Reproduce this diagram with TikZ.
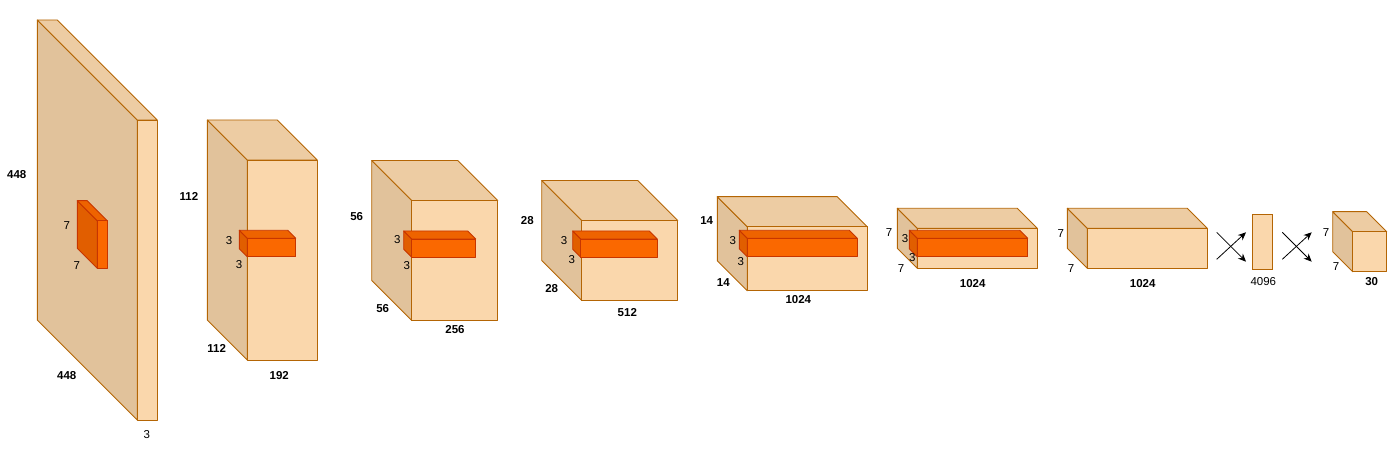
\documentclass[tikz,border=0pt]{standalone}
\usepackage{fontspec}
\setmainfont{Liberation Sans}
\usetikzlibrary{arrows.meta}
\definecolor{frontc}{HTML}{FAD7AC}
\definecolor{topc}{HTML}{EDCCA3}
\definecolor{sidec}{HTML}{E1C29B}
\definecolor{edgec}{HTML}{B46504}
\definecolor{kfront}{HTML}{FA6800}
\definecolor{ktop}{HTML}{EE6300}
\definecolor{kside}{HTML}{E15E00}
\definecolor{kedge}{HTML}{C73500}
% #1 x, #2 y (front top-left), #3 w, #4 h, #5 depth, #6 front, #7 top, #8 side, #9 edge
\newcommand{\mycuboid}[9]{%
  \filldraw[fill=#8,draw=#9,line width=0.9pt,line join=round]
    (#1-#5,#2-#5) -- (#1,#2) -- (#1,#2+#4) -- (#1-#5,#2+#4-#5) -- cycle;
  \filldraw[fill=#7,draw=#9,line width=0.9pt,line join=round]
    (#1-#5,#2-#5) -- (#1-#5+#3,#2-#5) -- (#1+#3,#2) -- (#1,#2) -- cycle;
  \filldraw[fill=#6,draw=#9,line width=0.9pt,line join=round]
    (#1,#2) rectangle (#1+#3,#2+#4);
}
\newcommand{\myblock}[5]{\mycuboid{#1}{#2}{#3}{#4}{#5}{frontc}{topc}{sidec}{edgec}}
\newcommand{\mykernel}[5]{\mycuboid{#1}{#2}{#3}{#4}{#5}{kfront}{ktop}{kside}{kedge}}
\tikzset{
  lab/.style={font=\fontsize{11.5}{13}\selectfont\bfseries,inner sep=0pt,text=black},
  labr/.style={font=\fontsize{11.5}{13}\selectfont,inner sep=0pt,text=black},
  fcarrow/.style={-{Stealth[length=8pt,width=7pt]},line width=0.8pt,black}
}
\begin{document}
\begin{tikzpicture}[x=1pt,y=-1pt]
\useasboundingbox (0,0) rectangle (1395,457);
% blocks
\myblock{137.3}{120}{20}{300}{100}
\mykernel{97.3}{220.7}{10}{47.7}{20}
\myblock{247.3}{160}{70}{200}{40}
\mykernel{247.3}{238.3}{48.4}{18.4}{8}
\myblock{411.7}{200.5}{86}{120}{40}
\mykernel{411.7}{239}{64}{18.3}{8}
\myblock{581.7}{220.5}{96}{80}{40}
\mykernel{580.7}{239}{76.6}{18.3}{8}
\myblock{747.3}{226.7}{120}{64}{30}
\mykernel{747.3}{238.3}{110}{18.4}{8}
\myblock{917.3}{228.3}{120}{40}{20}
\mykernel{917.3}{238.3}{110.4}{18.4}{8}
\myblock{1087.3}{228.3}{120}{40}{20}
\filldraw[fill=frontc,draw=edgec,line width=0.9pt] (1252.3,214) rectangle (1272.7,269.3);
\myblock{1352.7}{231.7}{34}{40}{20}
% arrows
\coordinate (a1s) at (1216.7,259.3); \coordinate (a1e) at (1246,232.3);
\coordinate (a2s) at (1216.7,232.3); \coordinate (a2e) at (1246,261.7);
\coordinate (a3s) at (1282.3,259.3); \coordinate (a3e) at (1311.7,232.3);
\coordinate (a4s) at (1282.3,232.3); \coordinate (a4e) at (1311.7,261.7);
\draw[fcarrow] (a1s) -- (a1e);
\draw[fcarrow] (a2s) -- (a2e);
\draw[fcarrow] (a3s) -- (a3e);
\draw[fcarrow] (a4s) -- (a4e);
% labels block 1
\node[lab] (l1a) at (16.7,175) {448};
\node[lab] (l1b) at (66.7,375.7) {448};
\node[labr] (l1c) at (146.7,435) {3};
\node[labr] (l1d) at (66.7,225.7) {7};
\node[labr] (l1e) at (76.7,265.7) {7};
% block 2
\node[lab] (l2a) at (189,196) {112};
\node[labr] (l2b) at (229,240.7) {3};
\node[labr] (l2c) at (239,265) {3};
\node[lab] (l2d) at (216.7,348.3) {112};
\node[lab] (l2e) at (279.3,375.7) {192};
% block 3
\node[lab] (l3a) at (356.7,216.7) {56};
\node[labr] (l3b) at (397.3,240) {3};
\node[labr] (l3c) at (406.7,265.7) {3};
\node[lab] (l3d) at (382.7,309) {56};
\node[lab] (l3e) at (455,330) {256};
% block 4
\node[lab] (l4a) at (527.3,220.7) {28};
\node[labr] (l4b) at (564,240.7) {3};
\node[labr] (l4c) at (571.7,260) {3};
\node[lab] (l4d) at (551.7,289) {28};
\node[lab] (l4e) at (627.3,312.7) {512};
% block 5
\node[lab] (l5a) at (706.7,221) {14};
\node[labr] (l5b) at (732.7,241) {3};
\node[labr] (l5c) at (740.7,261.7) {3};
\node[lab] (l5d) at (723.3,282.7) {14};
\node[lab] (l5e) at (798.3,300) {1024};
% block 6
\node[labr] (l6a) at (889,232.3) {7};
\node[labr] (l6b) at (905,239) {3};
\node[labr] (l6c) at (912.3,257.7) {3};
\node[labr] (l6d) at (901,269) {7};
\node[lab] (l6e) at (972.7,283.3) {1024};
% block 7
\node[labr] (l7a) at (1060.7,233.3) {7};
\node[labr] (l7b) at (1071,269) {7};
\node[lab] (l7c) at (1142.7,283.3) {1024};
% fc
\node[labr] (l8a) at (1263.3,281.7) {4096};
% block 8
\node[labr] (l9a) at (1326,232.3) {7};
\node[labr] (l9b) at (1336,266.7) {7};
\node[lab] (l9c) at (1371.7,281.7) {30};
\end{tikzpicture}
\end{document}
